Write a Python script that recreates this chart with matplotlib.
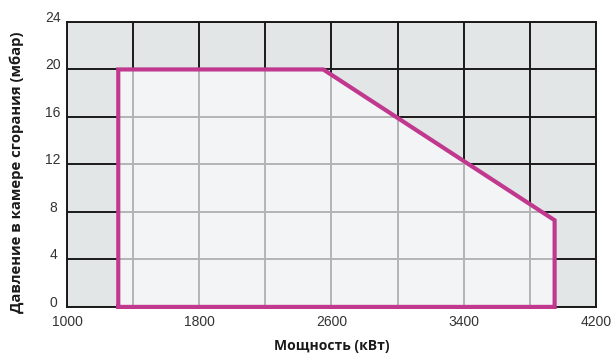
import matplotlib.pyplot as plt
from matplotlib.patches import Polygon

# рабочее поле горелки
power_kw = [1310, 1310, 2550, 3950, 3950]
pressure_mbar = [0, 20, 20, 7.3, 0]

x_ticks = [1000, 1800, 2600, 3400, 4200]
y_ticks = [0, 4, 8, 12, 16, 20, 24]
x_grid = list(range(1000, 4201, 400))

fig = plt.figure(figsize=(6.15, 3.54), dpi=100)
ax = fig.add_axes([0.109, 0.133, 0.86, 0.805])
ax.set_xlim(1000, 4200)
ax.set_ylim(0, 24)
ax.set_facecolor('#e3e6e7')

# черная сетка вне поля
for x in x_grid:
    ax.axvline(x, color='#1a1a1a', lw=1.4, zorder=1)
for y in y_ticks:
    ax.axhline(y, color='#1a1a1a', lw=1.4, zorder=1)

pts = list(zip(power_kw, pressure_mbar))
fill = Polygon(pts, closed=True, facecolor='#f3f4f6', edgecolor='none', zorder=2)
ax.add_patch(fill)

# светлая сетка внутри поля
for x in x_grid:
    ln = ax.axvline(x, color='#b4b4b4', lw=1.4, zorder=3)
    ln.set_clip_path(fill)
for y in y_ticks:
    ln = ax.axhline(y, color='#b4b4b4', lw=1.4, zorder=3)
    ln.set_clip_path(fill)

ax.plot(power_kw + [power_kw[0]], pressure_mbar + [pressure_mbar[0]],
        color='#c0398f', lw=3, solid_joinstyle='miter', zorder=4, clip_on=False)

for s in ax.spines.values():
    s.set_color('#1a1a1a')
    s.set_linewidth(1.4)

ax.set_xticks(x_ticks)
ax.set_yticks(y_ticks)
ax.tick_params(length=0, labelsize=10, labelcolor='#333333')
ax.tick_params(axis='x', pad=6)
ax.tick_params(axis='y', pad=10)
for lbl in ax.get_yticklabels():
    lbl.set_horizontalalignment('center')
    lbl.set_verticalalignment('baseline')
for lbl in ax.get_xticklabels():
    lbl.set_family('Liberation Sans')
for lbl in ax.get_yticklabels():
    lbl.set_family('Liberation Sans')

ax.set_xlabel('Мощность (кВт)', fontsize=10, fontweight='bold', family='Open Sans',
              color='#1a1a1a', labelpad=7)
ax.set_ylabel('Давление в камере сгорания (мбар)', fontsize=10.7, fontweight='bold',
              family='Open Sans', color='#1a1a1a')
ax.yaxis.set_label_coords(-0.082, 0.474)

plt.savefig('out.png', dpi=100)
